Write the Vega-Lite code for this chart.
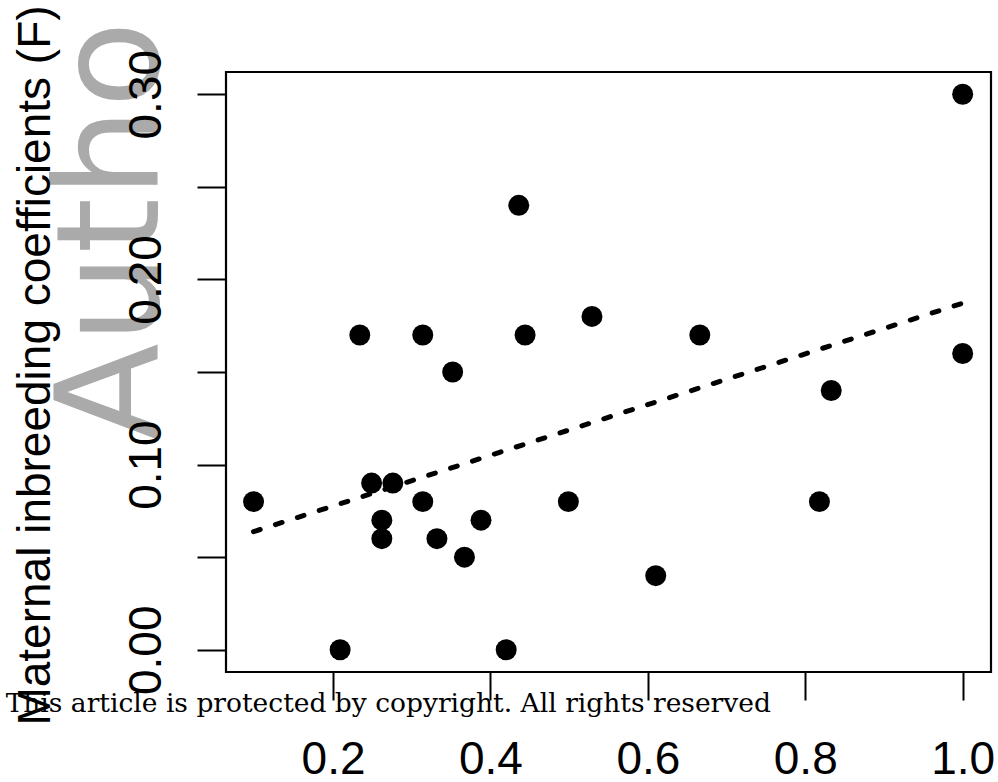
{
  "$schema": "https://vega.github.io/schema/vega-lite/v6.json",
  "width": 765,
  "height": 600,
  "autosize": "none",
  "padding": {"left": 226, "top": 72, "right": 7, "bottom": 110},
  "background": "white",
  "config": {
    "view": {"stroke": "black", "strokeWidth": 2.2},
    "axis": {"grid": false}
  },
  "data": {
    "values": [
      {"proportion": 1.0, "F": 0.30},
      {"proportion": 0.436, "F": 0.24},
      {"proportion": 0.234, "F": 0.17},
      {"proportion": 0.314, "F": 0.17},
      {"proportion": 0.444, "F": 0.17},
      {"proportion": 0.529, "F": 0.18},
      {"proportion": 0.666, "F": 0.17},
      {"proportion": 0.352, "F": 0.15},
      {"proportion": 1.0, "F": 0.16},
      {"proportion": 0.833, "F": 0.14},
      {"proportion": 0.099, "F": 0.08},
      {"proportion": 0.249, "F": 0.09},
      {"proportion": 0.276, "F": 0.09},
      {"proportion": 0.314, "F": 0.08},
      {"proportion": 0.262, "F": 0.07},
      {"proportion": 0.262, "F": 0.06},
      {"proportion": 0.332, "F": 0.06},
      {"proportion": 0.388, "F": 0.07},
      {"proportion": 0.367, "F": 0.05},
      {"proportion": 0.499, "F": 0.08},
      {"proportion": 0.818, "F": 0.08},
      {"proportion": 0.610, "F": 0.04},
      {"proportion": 0.209, "F": 0.0},
      {"proportion": 0.420, "F": 0.0}
    ]
  },
  "layer": [
    {
      "mark": {"type": "point", "filled": true, "shape": "circle", "size": 440, "color": "black", "opacity": 1},
      "encoding": {
        "x": {
          "field": "proportion", "type": "quantitative",
          "scale": {"domain": [0.064, 1.036], "nice": false, "zero": false},
          "axis": {
            "title": null, "values": [0.2, 0.4, 0.6, 0.8, 1.0], "format": ".1f",
            "domain": false, "tickSize": 28, "tickWidth": 2, "tickColor": "black",
            "labelFont": "Liberation Sans", "labelFontSize": 46, "labelColor": "black",
            "labelPadding": 37, "labelBaseline": "top", "labelFlush": false, "labelBound": false,
            "labelOverlap": false, "zindex": 1
          }
        },
        "y": {
          "field": "F", "type": "quantitative",
          "scale": {"domain": [-0.012, 0.312], "nice": false, "zero": false},
          "axis": {
            "title": "Maternal inbreeding coefficients (F)",
            "values": [0, 0.05, 0.1, 0.15, 0.2, 0.25, 0.3],
            "labelExpr": "round(datum.value * 20) % 2 == 0 ? format(datum.value, '.2f') : ''",
            "domain": false, "tickSize": 29, "tickWidth": 2, "tickColor": "black",
            "labelFont": "Liberation Sans", "labelFontSize": 46, "labelColor": "black",
            "labelAngle": -90, "labelAlign": "center", "labelBaseline": "alphabetic",
            "labelPadding": 37, "labelFlush": false, "labelBound": false, "labelOverlap": false,
            "titleFont": "Liberation Sans", "titleFontSize": 46, "titleFontWeight": "normal",
            "titleColor": "black", "titleAngle": -90, "titleAlign": "center",
            "titleBaseline": "alphabetic", "titleX": -177, "titleY": 293,
            "zindex": 1
          }
        }
      }
    },
    {
      "transform": [{"regression": "F", "on": "proportion"}],
      "mark": {"type": "line", "strokeDash": [7, 16], "strokeWidth": 5, "color": "black", "strokeCap": "round"},
      "encoding": {
        "x": {"field": "proportion", "type": "quantitative"},
        "y": {"field": "F", "type": "quantitative"}
      }
    },
    {
      "data": {"values": [{"label": "Autho"}]},
      "mark": {"type": "text", "angle": 270, "align": "left", "baseline": "alphabetic", "font": "DejaVu Sans", "fontSize": 142, "color": "#aaaaaa"},
      "encoding": {
        "text": {"field": "label"},
        "x": {"datum": -0.0224, "type": "quantitative"},
        "y": {"datum": 0.1130, "type": "quantitative"}
      }
    },
    {
      "data": {"values": [{"label": "This article is protected by copyright. All rights reserved"}]},
      "mark": {"type": "text", "align": "left", "baseline": "alphabetic", "font": "DejaVu Serif", "fontSize": 26.5, "color": "black"},
      "encoding": {
        "text": {"field": "label"},
        "x": {"datum": -0.216, "type": "quantitative"},
        "y": {"datum": -0.0336, "type": "quantitative"}
      }
    }
  ]
}
